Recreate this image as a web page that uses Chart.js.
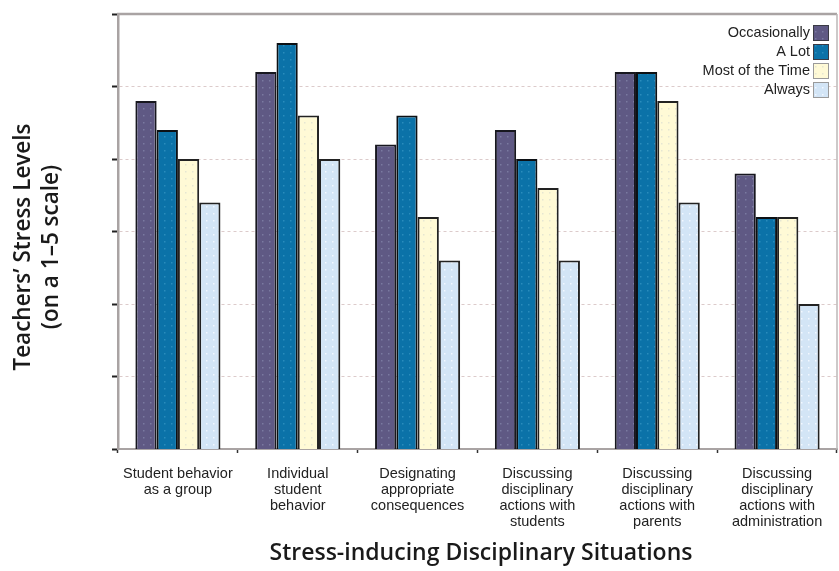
<!DOCTYPE html>
<html>
<head>
<meta charset="utf-8">
<script src="https://cdn.jsdelivr.net/npm/chart.js@4.4.1/dist/chart.umd.min.js"></script>
<style>
  html, body { margin: 0; padding: 0; background: #ffffff; }
  #wrap { width: 839px; height: 571px; position: relative; }
</style>
</head>
<body>
<div id="wrap"><canvas id="c" width="839" height="571"></canvas></div>
<script>
// Disciplinary situations (x categories, multi-line labels)
const categories = [
  ['Student behavior', 'as a group'],
  ['Individual', 'student', 'behavior'],
  ['Designating', 'appropriate', 'consequences'],
  ['Discussing', 'disciplinary', 'actions with', 'students'],
  ['Discussing', 'disciplinary', 'actions with', 'parents'],
  ['Discussing', 'disciplinary', 'actions with', 'administration']
];

// Series names and mean stress levels (1–5 scale)
const seriesNames = ['Occasionally', 'A Lot', 'Most of the Time', 'Always'];
const occasionally  = [4.4, 4.6, 4.1, 4.2, 4.6, 3.9];
const aLot          = [4.2, 4.8, 4.3, 4.0, 4.6, 3.6];
const mostOfTheTime = [4.0, 4.3, 3.6, 3.8, 4.4, 3.6];
const always        = [3.7, 4.0, 3.3, 3.3, 3.7, 3.0];

// Value axis range (tick labels are not shown)
const yMin = 2, yMax = 5, yStep = 0.5;

const yTitleLines = ['Teachers\u2019 Stress Levels', '(on a 1\u20135 scale)'];
const xTitle = 'Stress-inducing Disciplinary Situations';

const labelFont = '"Liberation Sans", Arial, sans-serif';
const titleFont = '"Open Sans", "Noto Sans", sans-serif';

// Halftone-style fill: base colour with a faint dot grid
function dotted(base, dot) {
  const s = 7;
  const cv = document.createElement('canvas');
  cv.width = s; cv.height = s;
  const g = cv.getContext('2d');
  g.fillStyle = base; g.fillRect(0, 0, s, s);
  g.fillStyle = dot;
  g.fillRect(3, 3, 1.5, 1.5);
  return g.createPattern(cv, 'repeat');
}

const fills = [
  dotted('#5f5984', '#7a7aa0'),
  dotted('#0b72a8', '#2a8cbc'),
  dotted('#fffad6', '#e6e6d2'),
  dotted('#d3e5f6', '#f2f8ff')
];
const edges = ['#17171f', '#0c1014', '#222222', '#222222'];
const seriesValues = [occasionally, aLot, mostOfTheTime, always];

const datasets = seriesNames.map((name, i) => ({
  label: name,
  data: seriesValues[i],
  backgroundColor: fills[i],
  borderColor: edges[i],
  borderWidth: 2,
  borderSkipped: 'start',
  categoryPercentage: 0.71,
  barPercentage: 1.0
}));

// Frame, legend and axis titles
const decor = {
  id: 'decor',
  afterDraw(chart) {
    const { ctx, chartArea: a } = chart;
    ctx.save();
    // top and right frame
    ctx.strokeStyle = '#a9a3a3';
    ctx.lineWidth = 2.5;
    ctx.beginPath();
    ctx.moveTo(a.left - 1, a.top);
    ctx.lineTo(a.right, a.top);
    ctx.stroke();
    ctx.strokeStyle = '#bdb7b7';
    ctx.lineWidth = 1.5;
    ctx.beginPath();
    ctx.moveTo(a.right, a.top);
    ctx.lineTo(a.right, a.bottom);
    ctx.stroke();

    // legend: right-aligned text with swatch on its right
    ctx.font = '14.5px ' + labelFont;
    ctx.textAlign = 'right';
    ctx.textBaseline = 'middle';
    chart.data.datasets.forEach((ds, i) => {
      const cy = 33 + i * 19;
      const bx = 813, bs = 16;
      ctx.fillStyle = '#222222';
      ctx.fillText(ds.label, bx - 3, cy);
      ctx.fillStyle = ds.backgroundColor;
      ctx.fillRect(bx, cy - bs / 2, bs, bs);
      ctx.strokeStyle = i < 2 ? '#3a3a44' : '#9a9a9a';
      ctx.lineWidth = 1;
      ctx.strokeRect(bx + 0.5, cy - bs / 2 + 0.5, bs - 1, bs - 1);
    });

    // y-axis title (rotated, two lines)
    ctx.fillStyle = '#1a1a1a';
    ctx.font = '600 22.5px ' + titleFont;
    ctx.textAlign = 'center';
    ctx.textBaseline = 'middle';
    ctx.translate(0, 247);
    ctx.rotate(-Math.PI / 2);
    ctx.fillText(yTitleLines[0], 0, 24);
    ctx.fillText(yTitleLines[1], 0, 52);
    ctx.restore();

    // x-axis title
    ctx.save();
    ctx.fillStyle = '#1a1a1a';
    ctx.font = '600 23px ' + titleFont;
    ctx.textAlign = 'center';
    ctx.textBaseline = 'middle';
    ctx.fillText(xTitle, 481, 553);
    ctx.restore();
  }
};

new Chart(document.getElementById('c'), {
  type: 'bar',
  data: { labels: categories, datasets },
  options: {
    responsive: false,
    animation: false,
    events: [],
    layout: { padding: { left: 0, right: 2, top: 14, bottom: 0 } },
    plugins: {
      legend: { display: false },
      tooltip: { enabled: false },
      title: { display: false }
    },
    scales: {
      x: {
        offset: true,
        grid: {
          offset: true,
          drawOnChartArea: false,
          drawTicks: true,
          tickLength: 4,
          tickColor: '#333333',
          tickWidth: 1.5
        },
        border: { display: true, color: '#a9a3a3', width: 2 },
        ticks: {
          color: '#222222',
          padding: 13,
          maxRotation: 0,
          autoSkip: false,
          font: { family: labelFont, size: 14.5, lineHeight: '16px' }
        },
        afterFit(scale) { scale.height = 122; }
      },
      y: {
        min: yMin,
        max: yMax,
        ticks: { stepSize: yStep, display: false },
        grid: {
          color: '#dccbcb',
          lineWidth: 1,
          drawTicks: true,
          tickLength: 6,
          tickColor: '#222222',
          tickWidth: 2
        },
        border: { display: true, color: '#a9a3a3', width: 2.5, dash: [3, 3] },
        afterFit(scale) { scale.width = 118; }
      }
    }
  },
  plugins: [decor]
});
</script>
</body>
</html>
